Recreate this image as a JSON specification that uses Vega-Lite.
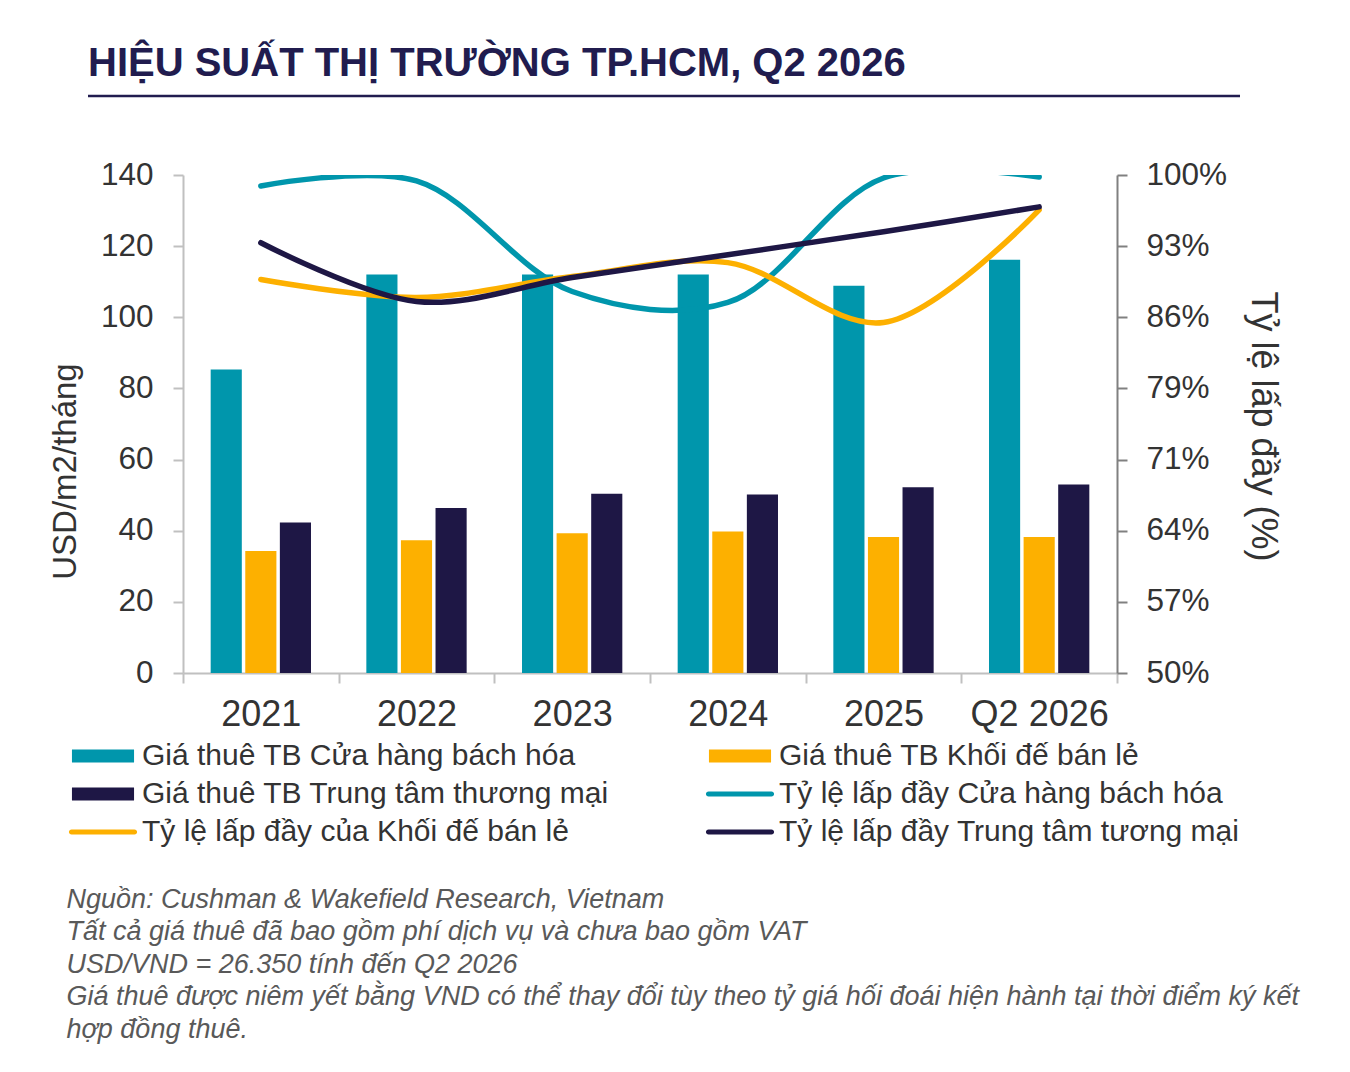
{
  "$schema": "https://vega.github.io/schema/vega-lite/v6.json",
  "width": 934,
  "height": 498,
  "autosize": {"type": "none"},
  "padding": {"left": 183, "top": 175, "right": 233, "bottom": 399},
  "background": "white",
  "title": {
    "text": "HIỆU SUẤT THỊ TRƯỜNG TP.HCM, Q2 2026",
    "anchor": "start",
    "frame": "group",
    "orient": "top",
    "dx": -95,
    "offset": 11,
    "font": "Liberation Sans",
    "fontSize": 40,
    "fontWeight": "bold",
    "color": "#211c4f"
  },
  "datasets": {
    "bars": [
      {"period": "2021", "series": "Giá thuê TB Cửa hàng bách hóa", "value": 85.3},
      {"period": "2021", "series": "Giá thuê TB Khối đế bán lẻ", "value": 34.3},
      {"period": "2021", "series": "Giá thuê TB Trung tâm thương mại", "value": 42.3},
      {"period": "2022", "series": "Giá thuê TB Cửa hàng bách hóa", "value": 112},
      {"period": "2022", "series": "Giá thuê TB Khối đế bán lẻ", "value": 37.3},
      {"period": "2022", "series": "Giá thuê TB Trung tâm thương mại", "value": 46.4},
      {"period": "2023", "series": "Giá thuê TB Cửa hàng bách hóa", "value": 112},
      {"period": "2023", "series": "Giá thuê TB Khối đế bán lẻ", "value": 39.3},
      {"period": "2023", "series": "Giá thuê TB Trung tâm thương mại", "value": 50.4},
      {"period": "2024", "series": "Giá thuê TB Cửa hàng bách hóa", "value": 112},
      {"period": "2024", "series": "Giá thuê TB Khối đế bán lẻ", "value": 39.8},
      {"period": "2024", "series": "Giá thuê TB Trung tâm thương mại", "value": 50.2},
      {"period": "2025", "series": "Giá thuê TB Cửa hàng bách hóa", "value": 108.9},
      {"period": "2025", "series": "Giá thuê TB Khối đế bán lẻ", "value": 38.2},
      {"period": "2025", "series": "Giá thuê TB Trung tâm thương mại", "value": 52.2},
      {"period": "Q2 2026", "series": "Giá thuê TB Cửa hàng bách hóa", "value": 116.2},
      {"period": "Q2 2026", "series": "Giá thuê TB Khối đế bán lẻ", "value": 38.2},
      {"period": "Q2 2026", "series": "Giá thuê TB Trung tâm thương mại", "value": 53.0}
    ],
    "lines": [
      {"period": "2021", "series": "Tỷ lệ lấp đầy Cửa hàng bách hóa", "value": 98.9},
      {"period": "2022", "series": "Tỷ lệ lấp đầy Cửa hàng bách hóa", "value": 99.4},
      {"period": "2023", "series": "Tỷ lệ lấp đầy Cửa hàng bách hóa", "value": 88.3},
      {"period": "2024", "series": "Tỷ lệ lấp đầy Cửa hàng bách hóa", "value": 87.2},
      {"period": "2025", "series": "Tỷ lệ lấp đầy Cửa hàng bách hóa", "value": 99.7},
      {"period": "Q2 2026", "series": "Tỷ lệ lấp đầy Cửa hàng bách hóa", "value": 99.8},
      {"period": "2021", "series": "Tỷ lệ lấp đầy của Khối đế bán lẻ", "value": 89.5},
      {"period": "2022", "series": "Tỷ lệ lấp đầy của Khối đế bán lẻ", "value": 87.7},
      {"period": "2023", "series": "Tỷ lệ lấp đầy của Khối đế bán lẻ", "value": 89.8},
      {"period": "2024", "series": "Tỷ lệ lấp đầy của Khối đế bán lẻ", "value": 91.2},
      {"period": "2025", "series": "Tỷ lệ lấp đầy của Khối đế bán lẻ", "value": 85.2},
      {"period": "Q2 2026", "series": "Tỷ lệ lấp đầy của Khối đế bán lẻ", "value": 96.5},
      {"period": "2021", "series": "Tỷ lệ lấp đầy Trung tâm tương mại", "value": 93.2},
      {"period": "2022", "series": "Tỷ lệ lấp đầy Trung tâm tương mại", "value": 87.3},
      {"period": "2023", "series": "Tỷ lệ lấp đầy Trung tâm tương mại", "value": 89.7},
      {"period": "2024", "series": "Tỷ lệ lấp đầy Trung tâm tương mại", "value": 92.0},
      {"period": "2025", "series": "Tỷ lệ lấp đầy Trung tâm tương mại", "value": 94.3},
      {"period": "Q2 2026", "series": "Tỷ lệ lấp đầy Trung tâm tương mại", "value": 96.8}
    ]
  },
  "layer": [
    {
      "data": {"values": [{}]},
      "mark": {"type": "rule", "color": "#211c4f", "strokeWidth": 2.5},
      "encoding": {
        "x": {"value": -95},
        "x2": {"value": 1057},
        "y": {"value": -79}
      }
    },
    {
      "data": {"name": "bars"},
      "mark": {"type": "bar"},
      "encoding": {
        "x": {
          "field": "period",
          "type": "nominal",
          "sort": ["2021", "2022", "2023", "2024", "2025", "Q2 2026"],
          "scale": {"paddingInner": 0, "paddingOuter": 0},
          "axis": {
            "title": [
              "Nguồn: Cushman & Wakefield Research, Vietnam",
              "Tất cả giá thuê đã bao gồm phí dịch vụ và chưa bao gồm VAT",
              "USD/VND = 26.350 tính đến Q2 2026",
              "Giá thuê được niêm yết bằng VND có thể thay đổi tùy theo tỷ giá hối đoái hiện hành tại thời điểm ký kết",
              "hợp đồng thuê."
            ],
            "titleFont": "Liberation Sans",
            "titleFontSize": 27,
            "titleFontStyle": "italic",
            "titleFontWeight": "normal",
            "titleColor": "#595959",
            "titleAnchor": "start",
            "titleAlign": "left",
            "titleBaseline": "top",
            "titleX": -117,
            "titleY": 213,
            "titleLineHeight": 32.5,
            "labelAngle": 0,
            "labelFontSize": 36,
            "labelColor": "#333333",
            "labelPadding": 14,
            "labelLimit": 300,
            "tickBand": "extent",
            "tickSize": 10,
            "tickWidth": 2,
            "tickColor": "#c0c0c0",
            "domainColor": "#c0c0c0",
            "domainWidth": 2
          }
        },
        "xOffset": {
          "field": "series",
          "type": "nominal",
          "sort": ["Giá thuê TB Cửa hàng bách hóa", "Giá thuê TB Khối đế bán lẻ", "Giá thuê TB Trung tâm thương mại"],
          "scale": {"paddingInner": 0.1, "paddingOuter": 0.8}
        },
        "y": {
          "field": "value",
          "type": "quantitative",
          "scale": {"domain": [0, 140], "nice": false},
          "axis": {
            "orient": "left",
            "title": "USD/m2/tháng",
            "values": [0, 20, 40, 60, 80, 100, 120, 140],
            "grid": false,
            "labelFontSize": 31.5,
            "labelColor": "#333333",
            "labelPadding": 20,
            "tickSize": 10,
            "tickWidth": 2,
            "tickColor": "#c0c0c0",
            "domainColor": "#c0c0c0",
            "domainWidth": 2,
            "titleFontSize": 33,
            "titleFontWeight": "normal",
            "titleColor": "#333333",
            "titleX": -118,
            "titleY": 296,
            "titleAngle": 270,
            "titleAlign": "center",
            "titleBaseline": "middle"
          }
        },
        "color": {
          "field": "series",
          "type": "nominal",
          "scale": {
            "domain": [
              "Giá thuê TB Cửa hàng bách hóa",
              "Giá thuê TB Khối đế bán lẻ",
              "Giá thuê TB Trung tâm thương mại",
              "Tỷ lệ lấp đầy Cửa hàng bách hóa",
              "Tỷ lệ lấp đầy của Khối đế bán lẻ",
              "Tỷ lệ lấp đầy Trung tâm tương mại"
            ],
            "range": ["#0096ac", "#fdb000", "#1e1745", "#0096ac", "#fdb000", "#1e1745"]
          },
          "legend": {
            "orient": "none",
            "legendX": -95,
            "legendY": 566,
            "direction": "horizontal",
            "columns": 2,
            "columnPadding": 95,
            "rowPadding": 8,
            "title": null,
            "labelFontSize": 30,
            "labelColor": "#333333",
            "labelOffset": 24,
            "labelLimit": 800,
            "symbolSize": 900,
            "symbolType": "M-2.07,-0.43H2.07V0.43H-2.07Z",
            "symbolStrokeWidth": 0,
            "encode": {
              "symbols": {
                "update": {
                  "shape": {"signal": "indexof(datum.value, 'Giá') === 0 ? 'M-2.07,-0.43H2.07V0.43H-2.07Z' : 'M-2.1,-0.17H2.1A0.17,0.17 0 0 1 2.1,0.17H-2.1A0.17,0.17 0 0 1 -2.1,-0.17Z'"}
                }
              }
            }
          }
        }
      }
    },
    {
      "data": {"name": "lines"},
      "mark": {"type": "line", "interpolate": "catmull-rom", "strokeWidth": 5.5, "strokeCap": "round", "clip": true},
      "encoding": {
        "x": {
          "field": "period",
          "type": "nominal",
          "sort": ["2021", "2022", "2023", "2024", "2025", "Q2 2026"]
        },
        "y": {
          "field": "value",
          "type": "quantitative",
          "scale": {"domain": [50, 100], "nice": false},
          "axis": {
            "orient": "right",
            "title": "Tỷ lệ lấp đầy (%)",
            "values": [50, 57.142857, 64.285714, 71.428571, 78.571429, 85.714286, 92.857143, 100],
            "labelExpr": "format(datum.value, '.0f') + '%'",
            "grid": false,
            "labelFontSize": 31.5,
            "labelColor": "#333333",
            "labelPadding": 19,
            "tickSize": 10,
            "tickWidth": 2,
            "tickColor": "#808080",
            "domainColor": "#808080",
            "domainWidth": 2,
            "titleFontSize": 36,
            "titleFontWeight": "normal",
            "titleColor": "#333333",
            "titleX": 145,
            "titleY": 251,
            "titleAngle": 90,
            "titleAlign": "center",
            "titleBaseline": "middle"
          }
        },
        "color": {"field": "series", "type": "nominal"}
      }
    }
  ],
  "resolve": {"scale": {"y": "independent"}},
  "config": {
    "font": "Liberation Sans",
    "view": {"stroke": null}
  }
}
